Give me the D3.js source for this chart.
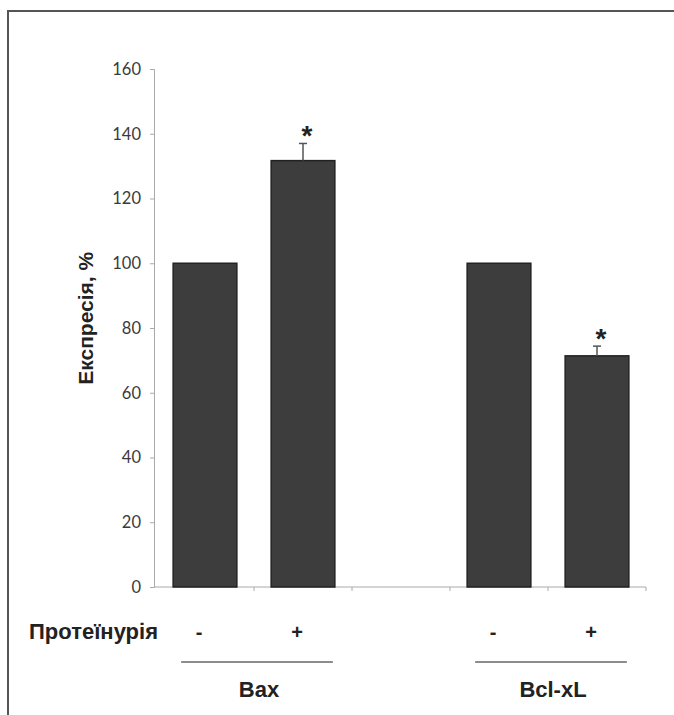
<!DOCTYPE html>
<html>
<head>
<meta charset="utf-8">
<script src="https://cdn.jsdelivr.net/npm/d3@7"></script>
<style>
  body { margin: 0; background: #fff; }
  text { font-family: "Liberation Sans", Arial, sans-serif; }
</style>
</head>
<body>
<svg id="chart"></svg>
<script>
const width = 674;
const height = 715;

const categories = ['Bax-', 'Bax+', '', 'Bcl-', 'Bcl+'];
const values = [100, 131.7, null, 100, 71.4];
const errors = [null, 5.3, null, null, 3.0];
const signs = ['-', '+', '', '-', '+'];
const stars = [false, true, false, false, true];
const groups = [
    {name: 'Bax', from: 'Bax-', to: 'Bax+'},
    {name: 'Bcl-xL', from: 'Bcl-', to: 'Bcl+'}
];
const yTicks = [0, 20, 40, 60, 80, 100, 120, 140, 160];

const svg = d3.select('#chart')
    .attr('width', width)
    .attr('height', height);

// frame
svg.append('rect')
    .attr('x', 8).attr('y', 11)
    .attr('width', 720).attr('height', 760)
    .attr('fill', 'none')
    .attr('stroke', '#555')
    .attr('stroke-width', 2);

const x = d3.scaleBand().domain(categories).range([156, 646]).paddingInner(0.35).paddingOuter(0.175);
const xTicks = d3.scaleBand().domain(categories).range([156, 646]);
const y = d3.scaleLinear().domain([0, 160]).range([587, 69]);

// y axis
const yAxis = svg.append('g')
    .attr('transform', 'translate(154,0)')
    .call(d3.axisLeft(y).tickValues(yTicks).tickSize(4).tickPadding(9));
yAxis.select('.domain').attr('stroke', '#aaa');
yAxis.selectAll('.tick line').attr('stroke', '#aaa');
yAxis.selectAll('.tick text')
    .attr('fill', '#3a3a3a')
    .style('font-family', 'Lato, "Open Sans", sans-serif')
    .style('font-size', '16.5px');

// x axis
const base = svg.append('g');
base.append('line')
    .attr('x1', 154).attr('x2', 646)
    .attr('y1', y(0)).attr('y2', y(0))
    .attr('stroke', '#aaa');
base.selectAll('.xt')
    .data(categories)
    .enter()
    .append('line')
    .attr('x1', d => xTicks(d) + xTicks.bandwidth())
    .attr('x2', d => xTicks(d) + xTicks.bandwidth())
    .attr('y1', y(0)).attr('y2', y(0) + 4)
    .attr('stroke', '#aaa');

const rows = categories.map((c, i) => ({c, v: values[i], e: errors[i], s: signs[i], star: stars[i]}));

// bars
svg.selectAll('.bar')
    .data(rows.filter(d => d.v != null))
    .enter()
    .append('rect')
    .attr('x', d => x(d.c))
    .attr('y', d => y(d.v))
    .attr('width', x.bandwidth())
    .attr('height', d => y(0) - y(d.v))
    .attr('fill', '#3d3d3d')
    .attr('stroke', '#222')
    .attr('stroke-width', 1.5);

// error bars
const eb = svg.selectAll('.err')
    .data(rows.filter(d => d.e != null))
    .enter()
    .append('g')
    .attr('stroke', '#555')
    .attr('stroke-width', 1.5);
eb.append('line')
    .attr('x1', d => x(d.c) + x.bandwidth() / 2)
    .attr('x2', d => x(d.c) + x.bandwidth() / 2)
    .attr('y1', d => y(d.v))
    .attr('y2', d => y(d.v + d.e));
eb.append('line')
    .attr('x1', d => x(d.c) + x.bandwidth() / 2 - 4)
    .attr('x2', d => x(d.c) + x.bandwidth() / 2 + 4)
    .attr('y1', d => y(d.v + d.e))
    .attr('y2', d => y(d.v + d.e));

// asterisks
svg.selectAll('.star')
    .data(rows.filter(d => d.star))
    .enter()
    .append('text')
    .attr('x', d => x(d.c) + x.bandwidth() / 2 + 4)
    .attr('y', d => y(d.v + d.e) + 2)
    .attr('text-anchor', 'middle')
    .style('font-size', '28px')
    .style('font-weight', 'bold')
    .attr('fill', '#222')
    .text('*');

// signs
svg.selectAll('.sign')
    .data(rows.filter(d => d.s))
    .enter()
    .append('text')
    .attr('x', d => x(d.c) + x.bandwidth() / 2 - 6)
    .attr('y', 639)
    .attr('text-anchor', 'middle')
    .style('font-size', '20px')
    .style('font-weight', 'bold')
    .attr('fill', '#222')
    .text(d => d.s);

svg.append('text')
    .attr('x', 158).attr('y', 639)
    .attr('text-anchor', 'end')
    .style('font-size', '22px')
    .style('font-weight', 'bold')
    .attr('fill', '#222')
    .text('Протеїнурія');

// group lines and names
const g = svg.selectAll('.grp')
    .data(groups)
    .enter()
    .append('g');
g.append('line')
    .attr('x1', d => x(d.from) + 8)
    .attr('x2', d => x(d.to) + x.bandwidth() - 2)
    .attr('y1', 662).attr('y2', 662)
    .attr('stroke', '#666')
    .attr('stroke-width', 1.5);
g.append('text')
    .attr('x', d => (x(d.from) + x(d.to) + x.bandwidth()) / 2 + 5)
    .attr('y', 697)
    .attr('text-anchor', 'middle')
    .style('font-size', '22px')
    .style('font-weight', 'bold')
    .attr('fill', '#222')
    .text(d => d.name);

// y label
svg.append('text')
    .attr('transform', 'translate(93,' + y(83) + ') rotate(-90)')
    .attr('text-anchor', 'middle')
    .style('font-size', '21px')
    .style('font-weight', 'bold')
    .attr('fill', '#222')
    .text('Експресія, %');
</script>
</body>
</html>
